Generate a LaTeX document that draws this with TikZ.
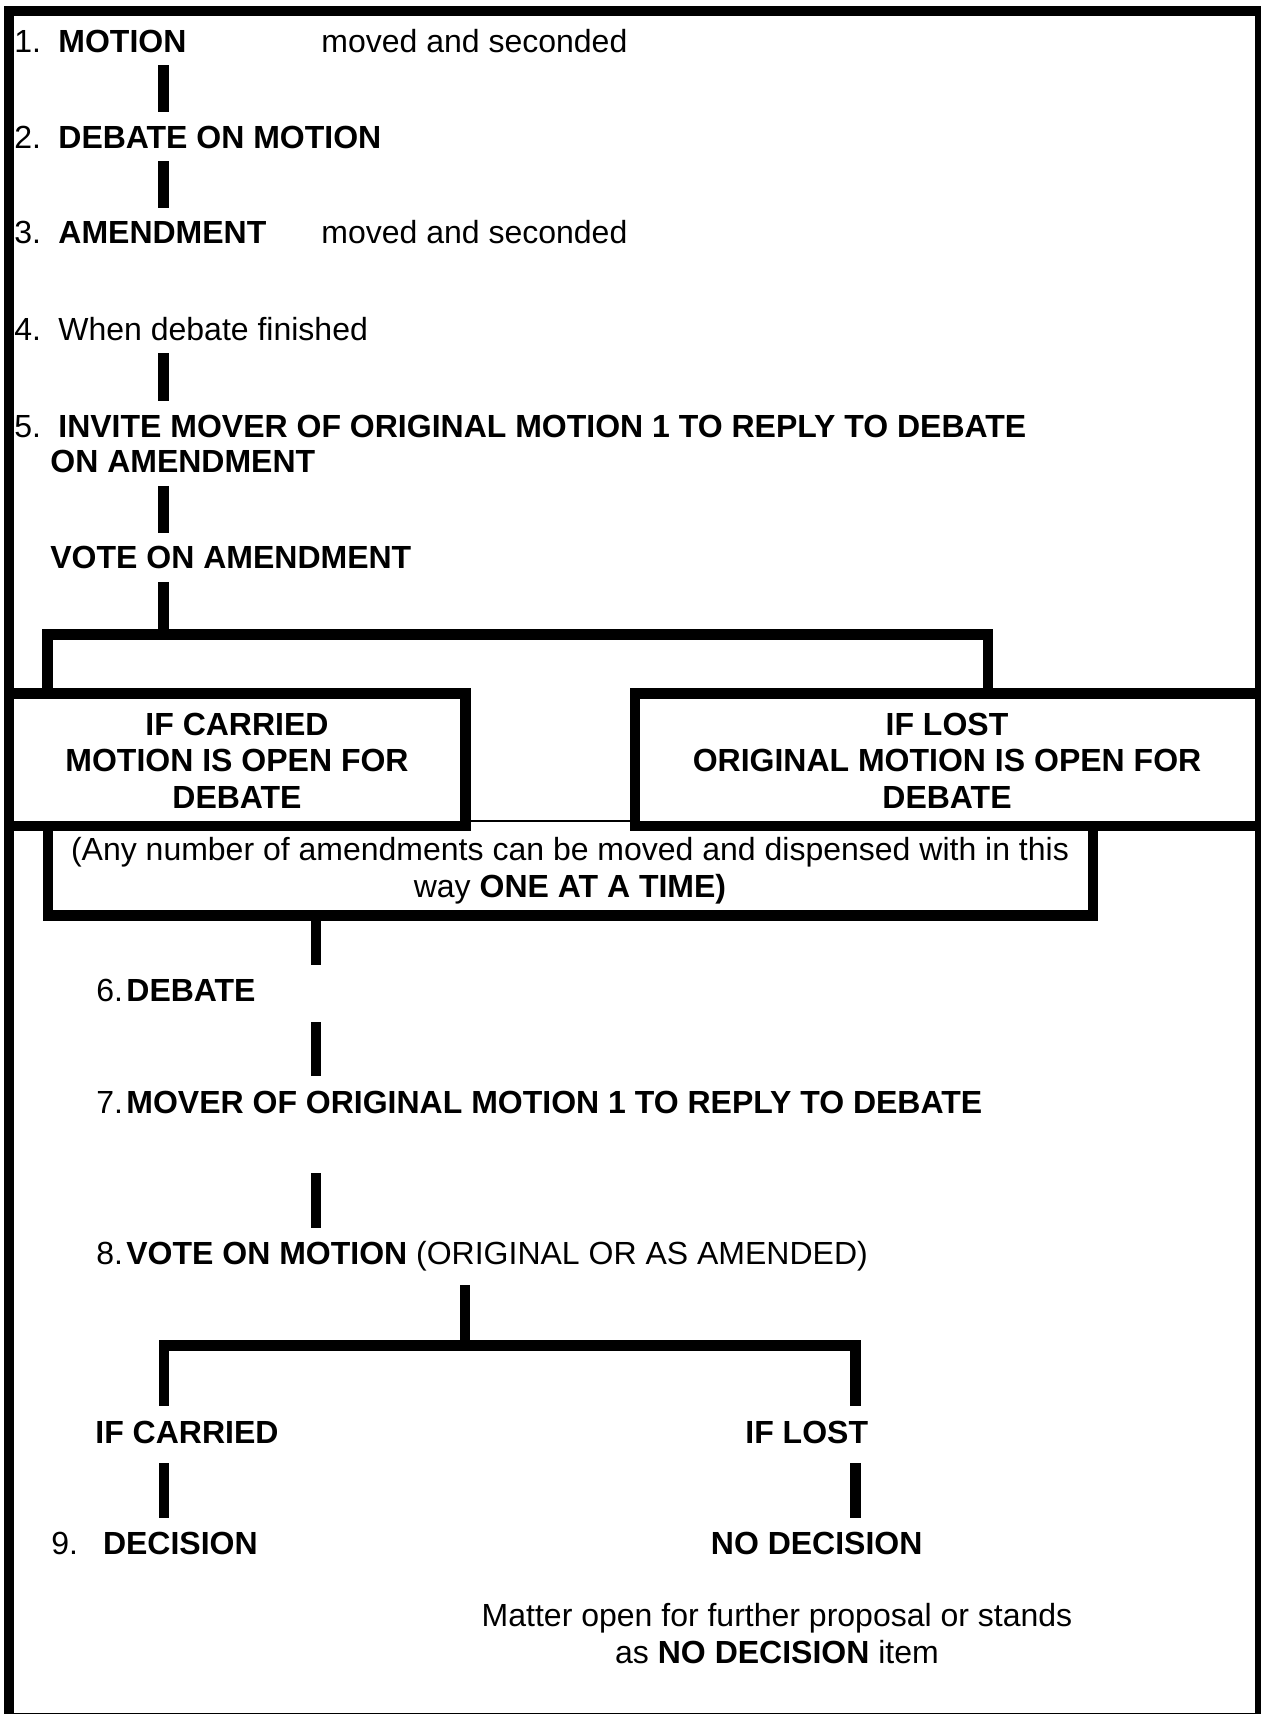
\documentclass[tikz,border=0pt]{standalone}
\usepackage{fontspec}
\setmainfont{Liberation Sans}

\begin{document}
\begin{tikzpicture}[x=0.5pt, y=-0.5pt,
    every node/.style={font=\fontsize{16}{18.3}\selectfont},
    txt/.style={inner sep=0pt, anchor=base west, text height=11.5pt, text depth=0pt},
    ctr/.style={inner sep=0pt, anchor=base, align=center},
    link/.style={line width=5.2pt},
    rule/.style={line width=5.2pt, line join=miter}]
    \useasboundingbox (0,0) rectangle (1261,1714);

    % Draw the outer frame
    \draw[rule] (9,11) rectangle (1260,1718);

    % Define the columns of the connectors
    \coordinate (xa) at (163.5,0);
    \coordinate (xb) at (316,0);
    \coordinate (xd) at (163.7,0);
    \coordinate (xe) at (855.5,0);

    % Steps 1 to 5
    \node[txt] (mot) at (14,52) {\makebox[22pt][l]{1.}\textbf{MOTION}};
    \node[txt] (motnote) at (321,52) {moved and seconded};
    \node[txt] (deb) at (14,148) {\makebox[22pt][l]{2.}\textbf{DEBATE ON MOTION}};
    \node[txt] (amd) at (14,243.5) {\makebox[22pt][l]{3.}\textbf{AMENDMENT}};
    \node[txt] (amdnote) at (321,243.5) {moved and seconded};
    \node[txt] (fin) at (14,340) {\makebox[22pt][l]{4.}When debate finished};
    \node[txt] (inv) at (14,437) {\makebox[22pt][l]{5.}\textbf{INVITE MOVER OF ORIGINAL MOTION 1 TO REPLY TO DEBATE}};
    \node[txt] (inv2) at (50,472.5) {\textbf{ON AMENDMENT}};
    \node[txt] (vote) at (50,568.5) {\textbf{VOTE ON AMENDMENT}};

    \draw[link, shorten <=6.5pt, shorten >=6.2pt] (mot.south -| xa) -- (deb.north -| xa);
    \draw[link, shorten <=6.5pt, shorten >=6.2pt] (deb.south -| xa) -- (amd.north -| xa);
    \draw[link, shorten <=6.5pt, shorten >=6.2pt] (fin.south -| xa) -- (inv.north -| xa);
    \draw[link, shorten <=6.5pt, shorten >=6.2pt] (inv2.south -| xa) -- (vote.north -| xa);

    % Split after the vote on the amendment
    \coordinate (fork1) at (163.5,634.5);
    \coordinate (carl) at (47.5,693.5);
    \coordinate (carr) at (987.7,693.5);
    \draw[link, shorten <=6.5pt] (vote.south -| xa) -- (fork1);
    \draw[rule] (carl) -- (carl |- fork1) -- (carr |- fork1) -- (carr);

    % Draw the two result boxes and the box below them
    \draw[rule] (9,693.5) -- (465.3,693.5) -- (465.3,825.7) -- (9,825.7);
    \draw[rule] (1260,693.5) -- (635,693.5) -- (635,825.7) -- (1260,825.7);
    \draw[line width=1pt] (465.3,821) -- (635,821);
    \draw[rule] (47.7,825.7) -- (47.7,915.5) -- (1092.7,915.5) -- (1092.7,825.7);
    \coordinate (out) at (316,915.5);

    % multi-line nodes sit on their last line
    \node[ctr] (carried) at (237,808.3) {\textbf{IF CARRIED}\\\textbf{MOTION IS OPEN FOR}\\\textbf{DEBATE}};
    \node[ctr] (lost) at (947,808.3) {\textbf{IF LOST}\\\textbf{ORIGINAL MOTION IS OPEN FOR}\\\textbf{DEBATE}};
    \node[ctr] (anyno) at (570,897.5) {(Any number of amendments can be moved and dispensed with in this\\way \textbf{ONE AT A TIME)}};

    % Steps 6 to 8
    \node[txt] (s6) at (96,1001) {\makebox[15pt][l]{6.}\textbf{DEBATE}};
    \node[txt] (s7) at (96,1113) {\makebox[15pt][l]{7.}\textbf{MOVER OF ORIGINAL MOTION 1 TO REPLY TO DEBATE}};
    \node[txt] (s8) at (96,1264) {\makebox[15pt][l]{8.}\textbf{VOTE ON MOTION} (ORIGINAL OR AS AMENDED)};

    \draw[link, shorten >=6.5pt] (out) -- (s6.north -| xb);
    \draw[link, shorten <=10.5pt, shorten >=6.6pt] (s6.south -| xb) -- (s7.north -| xb);
    \draw[link, shorten <=30pt, shorten >=6.5pt] (s7.south -| xb) -- (s8.north -| xb);

    % Split after the vote on the motion
    \coordinate (fork2) at (465,1345.5);
    \node[txt] (ifc) at (95,1443) {\textbf{IF CARRIED}};
    \node[txt] (ifl) at (745,1443) {\textbf{IF LOST}};
    \draw[link, shorten <=10.5pt] (s8.south -| fork2) -- (fork2);
    \draw[rule, shorten <=7pt, shorten >=7pt] (ifc.north -| xd) -- (xd |- fork2) -- (xe |- fork2) -- (ifl.north -| xe);

    % Step 9
    \node[txt] (dec) at (51,1554.5) {\makebox[25.8pt][l]{9.}\textbf{DECISION}};
    \node[txt] (nodec) at (710.5,1554.5) {\textbf{NO DECISION}};
    \draw[link, shorten <=10pt, shorten >=6.75pt] (ifc.south -| xd) -- (dec.north -| xd);
    \draw[link, shorten <=10pt, shorten >=6.75pt] (ifl.south -| xe) -- (nodec.north -| xe);

    \node[ctr] (matter) at (777,1663.5) {Matter open for further proposal or stands\\as \textbf{NO DECISION} item};
\end{tikzpicture}
\end{document}
